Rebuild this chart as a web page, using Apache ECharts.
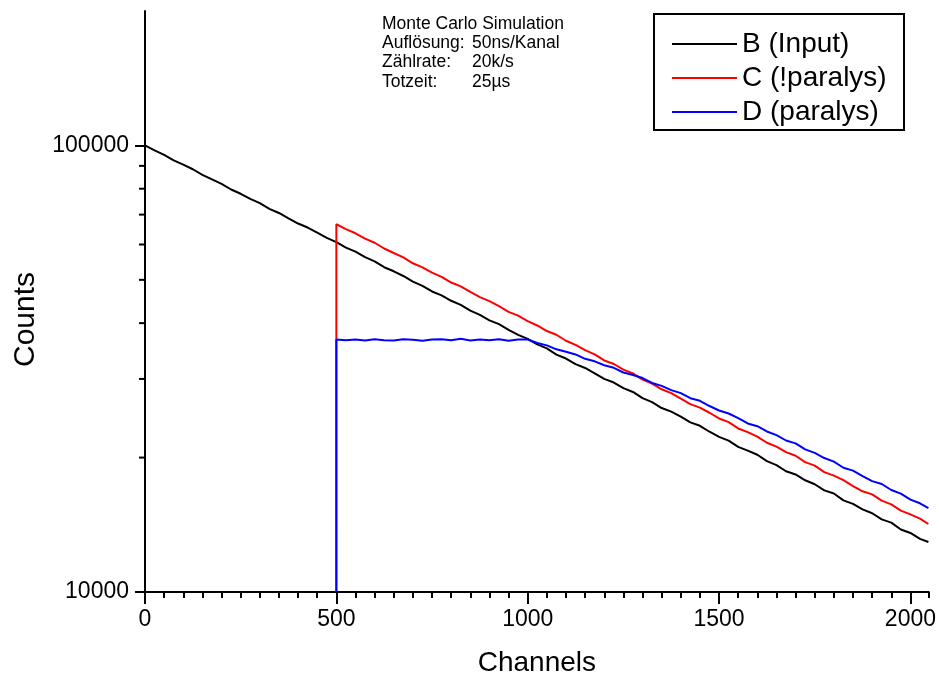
<!DOCTYPE html>
<html>
<head>
<meta charset="utf-8">
<script src="https://cdn.jsdelivr.net/npm/echarts@6/dist/echarts.min.js"></script>
<style>html,body{margin:0;padding:0;background:#fff}#chart{width:939px;height:683px}</style>
</head>
<body>
<div id="chart"></div>
<script>
// ---- data ----
const channels = [0,25,50,75,100,125,150,175,200,225,250,275,300,325,350,375,400,425,450,475,
  500,525,550,575,600,625,650,675,700,725,750,775,800,825,850,875,900,925,950,975,
  1000,1025,1050,1075,1100,1125,1150,1175,1200,1225,1250,1275,1300,1325,1350,1375,1400,1425,1450,1475,
  1500,1525,1550,1575,1600,1625,1650,1675,1700,1725,1750,1775,1800,1825,1850,1875,1900,1925,1950,1975,
  2000,2025,2047];
const countsB = [100000,97460,95260,92580,90550,88440,85940,83950,82000,79670,77940,75900,74270,72130,70590,68670,66860,65490,63820,62080,
  60760,59050,57850,56220,54990,53370,52260,51010,49560,48480,47100,46160,44890,43960,42650,41730,40570,39790,38630,37640,
  36880,35840,35120,34010,33330,32390,31740,30880,30000,29450,28610,28050,27180,26620,25820,25350,24700,23980,23560,22850,
  22250,21830,21130,20730,20290,19630,19240,18640,18330,17790,17430,16890,16620,16040,15750,15310,15010,14540,14300,13800,
  13560,13150,12940];
const countsC = [0,0,0,0,0,0,0,0,0,0,0,0,0,0,0,0,0,0,0,0,
  66600,64960,63580,61840,60550,58770,57430,56120,54460,53330,51910,50780,49320,48350,46970,45760,44820,43670,42400,41580,
  40420,39520,38400,37680,36530,35760,34790,34050,33000,32400,31470,30860,29900,29280,28440,27890,27090,26340,25880,25200,
  24470,24010,23240,22800,22280,21590,21160,20570,20190,19540,19180,18550,18220,17800,17270,16810,16540,16020,15710,15210,
  14920,14600,14200];
const countsD = [0,0,0,0,0,0,0,0,0,0,0,0,0,0,0,0,0,0,0,0,
  36760,36630,36770,36590,36830,36640,36580,36820,36700,36520,36770,36830,36640,36890,36570,36770,36640,36830,36510,36760,
  36770,36100,35670,34950,34520,34040,33280,32850,32200,31770,31010,30620,30140,29380,28950,28320,27880,27160,26800,26090,
  25490,25100,24520,23850,23510,22880,22450,21840,21520,20860,20490,19950,19590,18980,18700,18170,17710,17450,16920,16610,
  16100,15800,15420];
const seriesNames = ['B (Input)', 'C (!paralys)', 'D (paralys)'];
const xRange = [0, 2048];
const xMajorStep = 500;
const xMinorStep = 50;
const yRange = [10000, 200000];
const yMinorTicks = [20000, 30000, 40000, 50000, 60000, 70000, 80000, 90000];
const noteLabels = ['Monte Carlo Simulation', 'Auflösung:', 'Zählrate:', 'Totzeit:'];
const noteValues = ['', '50ns/Kanal', '20k/s', '25µs'];

// ---- styling ----
const FONT = 'Liberation Sans, Arial, Helvetica, sans-serif';
const colors = ['#000000', '#ff0000', '#0000ff'];

function buildData(counts) {
  const out = [];
  let prevZero = false;
  for (let i = 0; i < channels.length; i++) {
    const v = counts[i];
    if (v <= 0) { prevZero = true; continue; }
    if (prevZero) { out.push([channels[i], yRange[0]]); prevZero = false; }
    out.push([channels[i], v]);
  }
  return out;
}

const allCounts = [countsB, countsC, countsD];
const lineSeries = seriesNames.map((name, k) => ({
  name: name,
  type: 'line',
  data: buildData(allCounts[k]),
  showSymbol: false,
  symbol: 'none',
  clip: true,
  xAxisIndex: 0,
  yAxisIndex: 0,
  lineStyle: { color: colors[k], width: 2 },
  itemStyle: { color: colors[k] },
  z: 2 + k
}));

const minorTickSeries = {
  type: 'custom',
  coordinateSystem: 'cartesian2d',
  xAxisIndex: 0,
  yAxisIndex: 0,
  silent: true,
  clip: false,
  data: yMinorTicks.map(v => [xRange[0], v]),
  renderItem: function (params, api) {
    const p = api.coord([api.value(0), api.value(1)]);
    return { type: 'line', shape: { x1: p[0] - 6, y1: p[1], x2: p[0], y2: p[1] },
      style: { stroke: '#000', lineWidth: 2 } };
  },
  z: 10
};

const NOTE_FONT = '17.5px ' + FONT;
const noteGraphics = [];
const noteTop = 24, noteStep = 19.3;
noteLabels.forEach((t, i) => {
  noteGraphics.push({ type: 'text', x: 382, y: noteTop + i * noteStep,
    style: { text: t, font: NOTE_FONT, fill: '#000', verticalAlign: 'middle', align: 'left' } });
  if (noteValues[i]) noteGraphics.push({ type: 'text', x: 472, y: noteTop + i * noteStep,
    style: { text: noteValues[i], font: NOTE_FONT, fill: '#000', verticalAlign: 'middle', align: 'left' } });
});

const chart = echarts.init(document.getElementById('chart'), null, { renderer: 'canvas' });
chart.setOption({
  animation: false,
  backgroundColor: '#ffffff',
  textStyle: { fontFamily: FONT },
  grid: { left: 145, top: 11, right: 7, bottom: 91, containLabel: false },
  legend: {
    data: seriesNames,
    orient: 'vertical',
    left: 672,
    top: 27,
    padding: 0,
    itemGap: 0,
    icon: 'rect',
    itemWidth: 65,
    itemHeight: 2,
    selectedMode: false,
    textStyle: { fontFamily: FONT, fontSize: 28, lineHeight: 34, color: '#000' }
  },
  xAxis: [{
    type: 'value', min: xRange[0], max: xRange[1], interval: xMajorStep,
    axisLine: { onZero: false, lineStyle: { color: '#000', width: 2 } },
    axisTick: { length: 12, lineStyle: { color: '#000', width: 2 } },
    axisLabel: { color: '#000', fontFamily: FONT, fontSize: 23, margin: 16, showMaxLabel: false,
      formatter: v => String(v) },
    splitLine: { show: false },
    name: 'Channels', nameLocation: 'middle', nameGap: 57,
    nameTextStyle: { color: '#000', fontFamily: FONT, fontSize: 28 }
  }, {
    type: 'value', position: 'bottom', min: xRange[0], max: xRange[1], interval: xMinorStep,
    axisLine: { show: false },
    axisTick: { length: 6, lineStyle: { color: '#000', width: 2 } },
    axisLabel: { show: false },
    splitLine: { show: false }
  }],
  yAxis: {
    type: 'log', logBase: 10, min: yRange[0], max: yRange[1],
    axisLine: { show: true, onZero: false, lineStyle: { color: '#000', width: 2 } },
    axisTick: { show: true, length: 10, lineStyle: { color: '#000', width: 2 } },
    axisLabel: { color: '#000', fontFamily: FONT, fontSize: 23, margin: 16, showMaxLabel: false,
      formatter: v => String(Math.round(v)) },
    splitLine: { show: false },
    name: 'Counts', nameLocation: 'middle', nameRotate: 90, nameGap: 104,
    nameTextStyle: { color: '#000', fontFamily: FONT, fontSize: 30, padding: [0, 36, 0, 0] }
  },
  graphic: [
    { type: 'rect', shape: { x: 654, y: 14, width: 250, height: 116 },
      style: { fill: 'none', stroke: '#000', lineWidth: 2 }, z: 100 }
  ].concat(noteGraphics),
  series: lineSeries.concat([minorTickSeries])
});
</script>
</body>
</html>
